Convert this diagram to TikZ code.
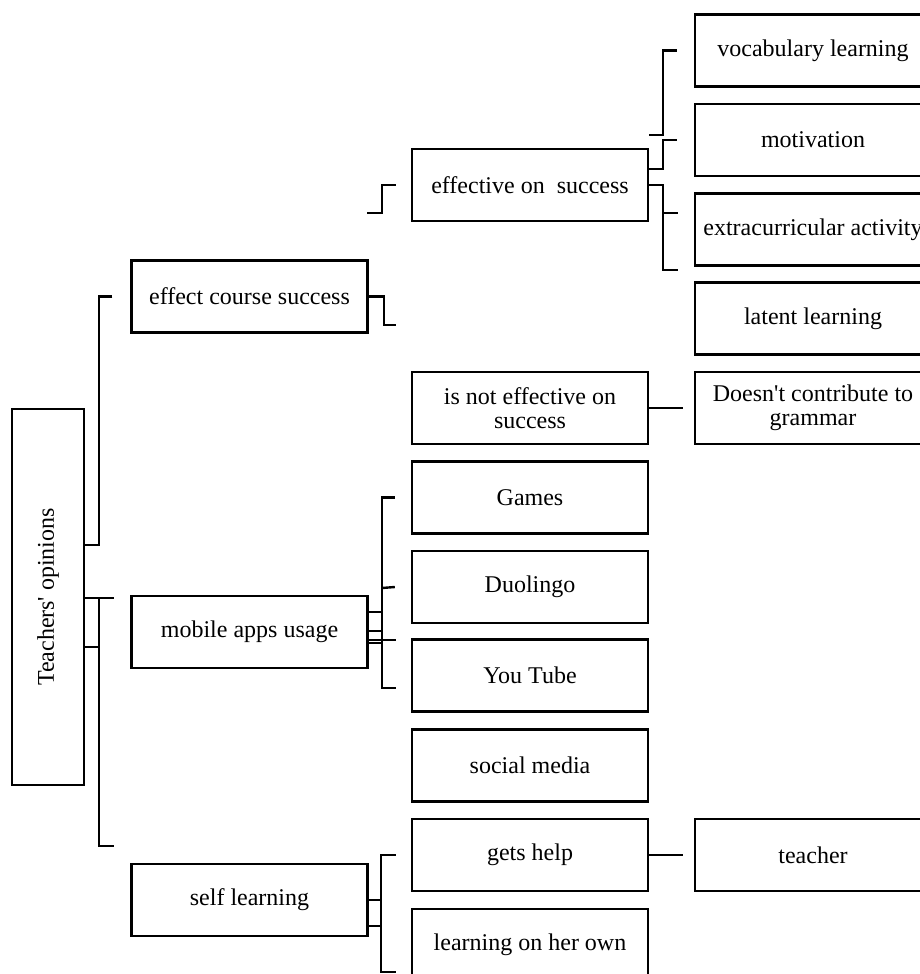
\documentclass[tikz,border=0pt]{standalone}
\usepackage{fontspec}
\setmainfont{Liberation Serif}
\usetikzlibrary{positioning}

\begin{document}
\begin{tikzpicture}[x=0.5pt,y=-0.5pt,line width=1.2pt,
        opbox/.style={draw, rectangle, minimum width=118pt, minimum height=36pt,
            inner sep=1pt, align=center, font=\fontsize{12}{12}\selectfont}]
        \useasboundingbox (0,0) rectangle (920,974);
        \clip (0,0) rectangle (920,974);
        % root
        \node[opbox, rotate=90, minimum width=188pt] (root) at (48,597) {Teachers\textquotesingle{} opinions};
        % first level
        \node[opbox] (ecs) at (249.5,296.5) {effect course success};
        \node[opbox] (mau) at (249.5,632) {mobile apps usage};
        \node[opbox] (sl) at (249.5,900) {self learning};
        % second level
        \node[opbox] (eos) at (530,185) {effective on~~success};
        \node[opbox] (nes) at (530,408) {is not effective on\\success};
        \node[opbox] (gam) at (530,497.5) {Games};
        \node[opbox] (duo) at (530,587) {Duolingo};
        \node[opbox] (ytb) at (530,675.5) {You Tube};
        \node[opbox] (som) at (530,765.5) {social media};
        \node[opbox] (gh) at (530,855) {gets help};
        \node[opbox] (loo) at (530,945) {learning on her own};
        % third level
        \node[opbox] (voc) at (813,50.5) {vocabulary learning};
        \node[opbox] (mot) at (813,140) {motivation};
        \node[opbox] (eca) at (813,229.5) {extracurricular activity};
        \node[opbox] (lat) at (813,318.5) {latent learning};
        \node[opbox] (dcg) at (813,408) {Doesn\textquotesingle{}t contribute to\\grammar};
        \node[opbox] (tch) at (813,855) {teacher};
        % brackets from root
        \draw ([xshift=-9pt]ecs.west) -| (99,545) -- (root.south |- 0,545);
        \draw (root.south |- 0,598) -- (114,598);
        \draw (99,598) |- (114,846);
        \draw (root.south |- 0,647) -- (99,647);
        % effect course success
        \draw (ecs.east) -- ++(15,0) |- (396,325);
        \draw ([xshift=-7.5pt]eos.west) -| (382,213) -- (367,213);
        % effective on success
        \draw (eos.east |- 0,169) -| (663,140) -- ([xshift=-8.5pt]mot.west);
        \draw ([xshift=-8.5pt]voc.west) -| (663,135) -- (eos.east |- 0,135);
        \draw (eos.east) -| (663,270) -- (678,270);
        \draw (663,213) -- (678,213);
        \draw (nes.east) -- ([xshift=-5.5pt]dcg.west);
        % mobile apps usage
        \draw ([xshift=-8pt]gam.west) -| (382,688) -- (396,688);
        \draw (382,588) -- ([xshift=-8pt]duo.west);
        \draw (mau.east |- 0,640) -- (396,640);
        \foreach \y in {612,631,643}
            \draw (mau.east |- 0,\y) -- (382,\y);
        % self learning
        \draw ([xshift=-7.5pt]gh.west) -| (381,972) -- (396,972);
        \foreach \y in {900,926}
            \draw (sl.east |- 0,\y) -- (381,\y);
        \draw (gh.east) -- ([xshift=-5.5pt]tch.west);
    \end{tikzpicture}
\end{document}
